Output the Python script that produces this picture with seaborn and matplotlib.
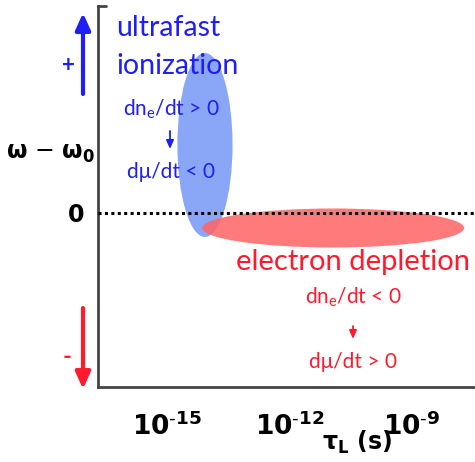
import matplotlib
matplotlib.use("Agg")
import matplotlib.pyplot as plt
from matplotlib.patches import Ellipse, FancyArrowPatch
import seaborn as sns
import numpy as np

# ---- data ----
regions = ["ultrafast ionization", "electron depletion"]
region_center_logtau = [-14.07, -10.93]   # log10(tau_L / s)
region_center_shift = [0.68, -0.15]        # omega - omega0 (arb.)
region_width_decades = [1.35, 6.42]
region_height = [1.84, 0.39]
region_colors = ["#7498f5", "#ff6464"]
xtick_exponents = [-15, -12, -9]
xtick_labels = [r"$\mathbf{10}^{\mathbf{\text{-}15}}$", r"$\mathbf{10}^{\mathbf{\text{-}12}}$",
                r"$\mathbf{10}^{\mathbf{\text{-}9}}$"]

sns.set_theme(style="white")
plt.rcParams['font.family'] = ['Lato', 'DejaVu Sans']

W, H = 475, 462
fig = plt.figure(figsize=(W / 100, H / 100), dpi=100)
L, R, B, T = 98, 475, 387, 6
ax = fig.add_axes([L / W, 1 - B / H, (R - L) / W, (B - T) / H])

def fp(x, y):
    return (x / W, 1 - y / H)

ax.set_xlim(-16.69, -7.457)
ax.set_ylim(-1.74, 2.07)

# zero reference line
sns.lineplot(x=[-16.69, -7.457], y=[0, 0], ax=ax, color="black", linestyle=(0, (1, 1.1)),
             linewidth=2.2, zorder=5)

for cx, cy, w, h, c in zip(region_center_logtau, region_center_shift, region_width_decades,
                           region_height, region_colors):
    ax.add_patch(Ellipse((cx, cy), w, h, facecolor=c, edgecolor="none", alpha=0.85, zorder=3))

for s in ["top", "right"]:
    ax.spines[s].set_visible(False)
for s in ["left", "bottom"]:
    ax.spines[s].set_color("#444444")
    ax.spines[s].set_linewidth(2)
ax.plot([0, 0.02], [1, 1], transform=ax.transAxes, color="#444444", lw=2, clip_on=False)

ax.set_xticks(xtick_exponents)
ax.set_xticklabels(xtick_labels, fontsize=19)
ax.tick_params(axis="x", direction="inout", length=15, width=1.6, color="#444444", pad=10)
ax.set_yticks([0])
ax.set_yticklabels(["0"], fontsize=17, fontweight="bold", family=["DejaVu Sans"])
ax.tick_params(axis="y", direction="out", length=9, width=1.6, color="#444444", pad=1)
for t in ax.get_xticklabels() + ax.get_yticklabels():
    t.set_color("black")

# axis labels
fig.text(*fp(357, 442), r"$\mathbf{\tau_L}$ (s)", fontsize=17, fontweight="bold", ha="center", va="center",
         family=["DejaVu Sans"], color="black")
fig.text(*fp(50, 153), r"$\mathbf{\omega}$ $-$ $\mathbf{\omega_0}$", fontsize=17, ha="center", va="center",
         family=["DejaVu Sans"], color="black")

blue = "#1e1ef5"
red = "#ff1a2e"

def arrow(p0, p1, color, lw, hw, hl):
    fig.add_artist(FancyArrowPatch(fp(*p0), fp(*p1), arrowstyle=f"-|>,head_width={hw},head_length={hl}",
                                   color=color, lw=lw, transform=fig.transFigure, mutation_scale=1,
                                   shrinkA=0, shrinkB=0))

# left arrows
arrow((83, 94), (83, 13), blue, 3, 4.5, 10)
fig.text(*fp(68, 66), "+", color=blue, fontsize=16, ha="center", va="center", fontweight="bold")
arrow((83, 308), (83, 389), red, 3, 4.5, 10)
fig.text(*fp(67, 357), "-", color=red, fontsize=17, ha="center", va="center", fontweight="bold")

# annotations
fig.text(*fp(116, 28), "ultrafast", color=blue, fontsize=20.5, ha="left", va="center")
fig.text(*fp(116, 66), "ionization", color=blue, fontsize=20.5, ha="left", va="center")
fig.text(*fp(171, 109), r"dn$_\mathregular{e}$/dt > 0", color=blue, fontsize=15, ha="center", va="center")
arrow((170, 131), (170, 149), blue, 1.3, 2.2, 5)
fig.text(*fp(171, 172), "dμ/dt < 0", color=blue, fontsize=15, ha="center", va="center")

fig.text(*fp(353, 262), "electron depletion", color=red, fontsize=21, ha="center", va="center")
fig.text(*fp(353, 297), r"dn$_\mathregular{e}$/dt < 0", color=red, fontsize=15, ha="center", va="center")
arrow((353, 326), (353, 339), red, 1.3, 2.2, 5)
fig.text(*fp(353, 362), "dμ/dt > 0", color=red, fontsize=15, ha="center", va="center")

fig.savefig("out.png", dpi=100)
